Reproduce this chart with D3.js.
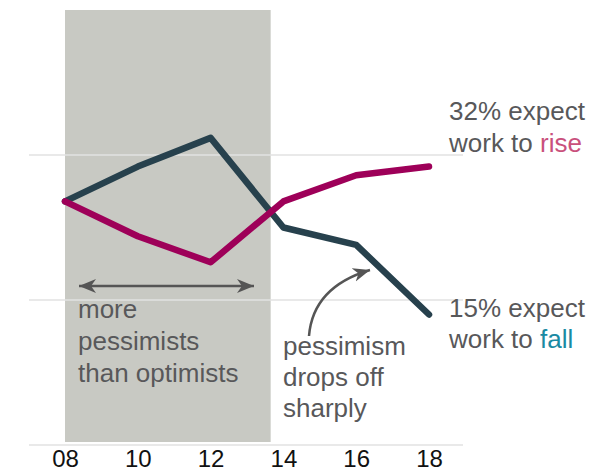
<!DOCTYPE html>
<html>
<head>
<meta charset="utf-8">
<script src="https://cdn.jsdelivr.net/npm/d3@7"></script>
<style>
  body { margin: 0; background: #fff; }
  svg { display: block; }
  svg text { font-family: "Liberation Sans", Arial, sans-serif; }
</style>
</head>
<body>
<div id="chart"></div>
<script>
// data (share of workers, %)
var years = [2008, 2010, 2012, 2014, 2016, 2018];
var riseValues = [28, 24, 21, 28, 31, 32];
var fallValues = [28, 32, 35.3, 25, 23, 15];
var gridValues = [0, 50 / 3, 100 / 3];
var shadeYears = [2008, 2013.65];

var width = 608,
    height = 471;

var svg = d3.select("#chart").append("svg")
    .attr("width", width)
    .attr("height", height);

var x = d3.scaleLinear().domain([2008, 2018]).range([65, 429]);
var y = d3.scaleLinear().domain([0, 50]).range([445, 10]);

// shaded period
svg.append("rect")
    .attr("x", x(shadeYears[0]))
    .attr("y", y(50))
    .attr("width", x(shadeYears[1]) - x(shadeYears[0]))
    .attr("height", y(0) - y(50) - 3)
    .attr("fill", "#c8c9c3");

// gridlines
svg.append("g").selectAll("line")
    .data(gridValues)
  .enter().append("line")
    .attr("x1", 29)
    .attr("x2", 463)
    .attr("y1", function(d) { return y(d); })
    .attr("y2", function(d) { return y(d); })
    .attr("stroke", "#e2e2e2")
    .attr("stroke-width", 1.5);

// x axis labels
var axis = svg.append("g")
    .attr("transform", "translate(0," + y(0) + ")")
    .call(d3.axisBottom(x)
        .tickValues(years)
        .tickSize(0)
        .tickPadding(5)
        .tickFormat(function(d) { return String(d % 100).padStart(2, "0"); }));
axis.attr("font-family", null);
axis.select(".domain").remove();
axis.selectAll("text")
    .attr("font-size", 24)
    .attr("fill", "#111");

// lines
var line = d3.line()
    .x(function(d, i) { return x(years[i]); })
    .y(function(d) { return y(d); });

svg.append("path")
    .datum(fallValues)
    .attr("d", line)
    .attr("fill", "none")
    .attr("stroke", "#27414d")
    .attr("stroke-width", 6.5)
    .attr("stroke-linecap", "round")
    .attr("stroke-linejoin", "round");

svg.append("path")
    .datum(riseValues)
    .attr("d", line)
    .attr("fill", "none")
    .attr("stroke", "#9e0059")
    .attr("stroke-width", 6.5)
    .attr("stroke-linecap", "round")
    .attr("stroke-linejoin", "round");

// arrow heads
var defs = svg.append("defs");
defs.append("marker")
    .attr("id", "head")
    .attr("viewBox", "-17 -8 18 16")
    .attr("refX", 0)
    .attr("refY", 0)
    .attr("markerUnits", "userSpaceOnUse")
    .attr("markerWidth", 18)
    .attr("markerHeight", 16)
    .attr("orient", "auto-start-reverse")
  .append("path")
    .attr("d", "M0,0L-17,-7L-12,0L-17,7Z")
    .attr("fill", "#555");

svg.append("path")
    .attr("d", "M79,286H254")
    .attr("stroke", "#555")
    .attr("stroke-width", 2.5)
    .attr("marker-start", "url(#head)")
    .attr("marker-end", "url(#head)");

svg.append("path")
    .attr("d", "M309,336Q313,287 370,270")
    .attr("fill", "none")
    .attr("stroke", "#555")
    .attr("stroke-width", 2.5)
    .attr("marker-end", "url(#head)");

// text annotations
function textBlock(xPos, baselines, lines) {
    var t = svg.append("g");
    lines.forEach(function(parts, i) {
        var txt = t.append("text")
            .attr("x", xPos)
            .attr("y", baselines[i])
            .attr("font-size", 26)
            .attr("fill", "#58585a");
        parts.forEach(function(p) {
            txt.append("tspan")
                .attr("fill", p.color || null)
                .text(p.text);
        });
    });
}

textBlock(449, [120, 152], [
    [{text: "32% expect"}],
    [{text: "work to "}, {text: "rise", color: "#c9507c"}]
]);
textBlock(449, [317, 348], [
    [{text: "15% expect"}],
    [{text: "work to "}, {text: "fall", color: "#1a8aa3"}]
]);
textBlock(78, [318, 350, 382], [
    [{text: "more"}],
    [{text: "pessimists"}],
    [{text: "than optimists"}]
]);
textBlock(283, [355, 386, 417], [
    [{text: "pessimism"}],
    [{text: "drops off"}],
    [{text: "sharply"}]
]);
</script>
</body>
</html>
